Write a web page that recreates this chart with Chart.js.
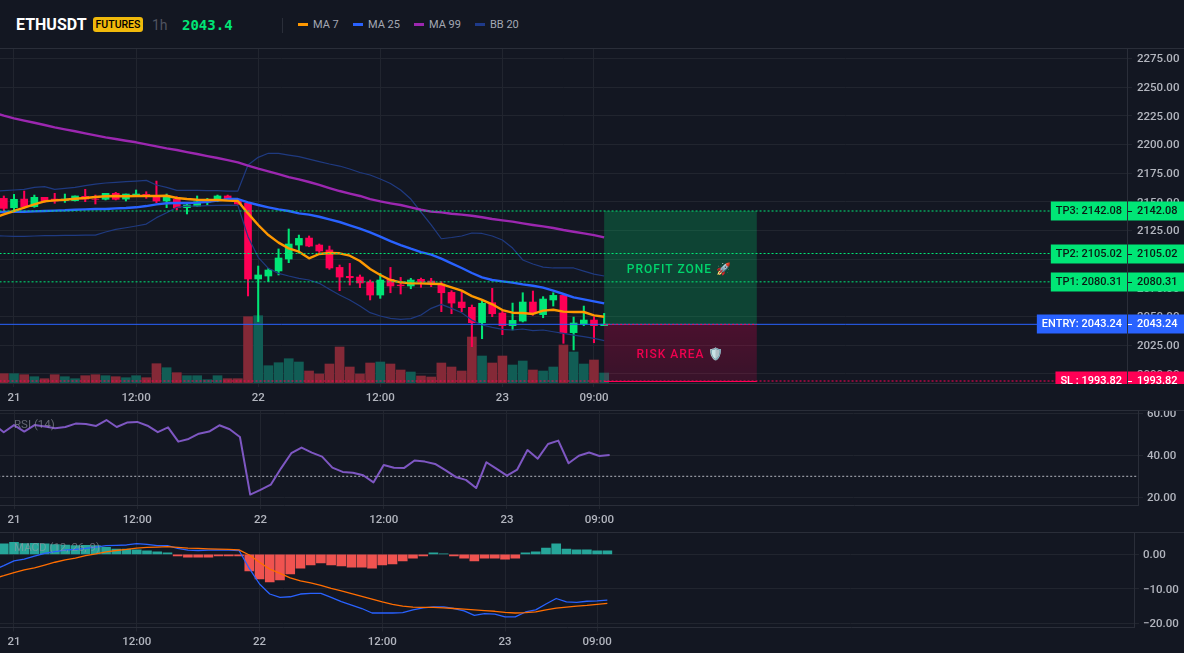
<!DOCTYPE html>
<html>
<head>
<meta charset="utf-8">
<title>ETHUSDT</title>
<script src="https://cdn.jsdelivr.net/npm/chart.js@4/dist/chart.umd.min.js"></script>
<style>
  html, body { margin: 0; padding: 0; width: 1184px; height: 653px; background: #131722; overflow: hidden; }
  body { position: relative; font-family: Roboto, sans-serif; }
  canvas { position: absolute; left: 0; }
  .abs { position: absolute; white-space: nowrap; line-height: 1; }
  .sep { position: absolute; left: 0; width: 1184px; height: 1px; background: #2a2e39; }
  .dash { position: absolute; top: 23px; width: 10px; height: 3px; }
  .leg { position: absolute; top: 18px; font-size: 11px; color: #a3a7b3; line-height: 14px; }
  .pane { position: absolute; left: 14px; font-size: 11.5px; color: rgba(150,154,166,0.62); line-height: 13px; }
</style>
</head>
<body>
  <div class="abs" style="left:16px;top:17px;font-size:16px;font-weight:700;color:#fff;">ETHUSDT</div>
  <div class="abs" style="left:93px;top:17px;width:50px;height:15px;line-height:15px;background:#f0b90b;border-radius:3px;color:#000;font-size:10.5px;font-weight:500;text-align:center;">FUTURES</div>
  <div class="abs" style="left:152px;top:18px;font-size:14px;color:#4f5360;">1h</div>
  <div class="abs" style="left:182px;top:18px;font-size:14px;font-weight:700;color:#00e676;font-family:'DejaVu Sans Mono',monospace;">2043.4</div>
  <div class="abs" style="left:282px;top:18px;width:1px;height:15px;background:#2a2e39;"></div>
  <div class="dash" style="left:298px;background:#ff9800;"></div><div class="leg" style="left:313px;">MA 7</div>
  <div class="dash" style="left:353px;background:#2962ff;"></div><div class="leg" style="left:368px;">MA 25</div>
  <div class="dash" style="left:414px;background:#9c27b0;"></div><div class="leg" style="left:429px;">MA 99</div>
  <div class="dash" style="left:475px;background:#1e3a8a;"></div><div class="leg" style="left:490px;">BB 20</div>

  <div class="sep" style="top:48px;"></div>
  <div class="sep" style="top:410px;"></div>
  <div class="sep" style="top:532px;"></div>

  <canvas id="mainChart" width="1184" height="361" style="top:49px;"></canvas>
  <canvas id="rsiChart" width="1184" height="121" style="top:411px;"></canvas>
  <canvas id="macdChart" width="1184" height="120" style="top:533px;"></canvas>

  <div class="pane" style="top:418px;">RSI (14)</div>
  <div class="pane" style="top:541px;">MACD (12, 26, 9)</div>

<script>
// hours since 21st 00:00, first sample sits just off the left edge
const firstHour = -2;

const opens = [2146.0,2153.1,2145.0,2152.5,2145.9,2154.0,2152.5,2151.1,2151.1,2154.9,2152.5,2152.3,2157.5,2152.5,2155.2,2156.6,2155.4,2150.8,2152.3,2145.0,2146.4,2149.9,2151.1,2155.2,2151.7,2148.8,2082.8,2085.4,2089.8,2100.2,2112.4,2118.5,2112.4,2108.1,2092.9,2085.1,2084.5,2080.2,2068.8,2082.5,2077.5,2076.7,2082.5,2081.0,2078.4,2071.1,2062.7,2058.1,2044.7,2062.1,2053.1,2042.1,2046.1,2062.7,2051.7,2064.5,2068.5,2036.0,2043.5,2047.0,2042.1];
const highs = [2155.0,2155.2,2156.6,2159.5,2156.0,2154.0,2157.5,2156.9,2155.2,2161.0,2156.0,2157.5,2158.4,2156.9,2160.4,2158.9,2168.2,2156.9,2154.6,2149.6,2155.2,2153.1,2156.0,2156.0,2152.3,2149.3,2094.1,2092.1,2109.0,2126.4,2121.1,2120.3,2113.3,2111.5,2095.0,2096.4,2086.3,2081.9,2087.7,2092.9,2084.2,2083.4,2083.6,2083.4,2080.4,2072.6,2071.7,2060.1,2065.0,2074.6,2054.9,2061.8,2070.8,2072.3,2067.4,2070.8,2069.1,2049.6,2059.2,2049.9,2052.8];
const lows = [2144.0,2142.4,2142.4,2144.4,2145.3,2149.6,2148.8,2149.6,2150.8,2150.2,2148.2,2151.7,2151.7,2150.8,2154.6,2153.1,2149.3,2145.0,2143.0,2139.5,2145.9,2147.3,2150.2,2151.7,2147.9,2068.0,2045.6,2080.5,2086.3,2097.0,2105.2,2110.9,2106.0,2091.2,2072.6,2077.5,2075.2,2064.5,2065.9,2070.8,2069.7,2074.3,2075.5,2076.1,2054.3,2052.5,2054.3,2023.8,2030.7,2049.9,2034.2,2038.3,2045.3,2051.1,2049.0,2059.2,2026.7,2020.9,2042.1,2027.2,2042.1];
const closes = [2152.0,2144.4,2152.3,2145.9,2154.0,2151.1,2150.8,2152.5,2155.2,2152.5,2152.3,2157.5,2152.3,2156.9,2156.9,2154.6,2150.8,2155.2,2145.0,2147.3,2150.2,2151.1,2155.2,2152.3,2148.2,2082.8,2086.3,2090.6,2101.1,2113.3,2118.2,2111.5,2107.2,2092.4,2084.5,2083.9,2079.3,2068.8,2081.9,2076.7,2076.9,2081.9,2080.2,2079.0,2070.8,2061.8,2057.8,2044.7,2061.6,2052.5,2042.1,2046.7,2062.7,2053.4,2065.3,2068.5,2035.7,2044.4,2047.0,2042.1,2043.4];
const volumes = [900,930,930,830,630,430,830,630,430,730,830,730,630,530,730,530,1930,1530,1030,730,730,330,730,430,430,6630,6730,1730,2030,2430,2100,1200,900,1900,3600,1600,900,2000,2100,1900,1300,1100,700,600,2000,1600,1200,4600,2700,2000,2700,1800,2200,1300,1200,1600,3800,3100,1900,2300,1000];

const ma7 = [2135.7,2139.2,2142.1,2145.0,2147.9,2150.5,2151.4,2151.9,2152.8,2153.4,2154.3,2154.9,2155.2,2154.9,2155.2,2155.2,2155.2,2155.4,2153.4,2152.5,2151.9,2151.7,2151.7,2151.1,2150.8,2140.0,2129.9,2121.1,2114.5,2109.5,2106.6,2100.8,2104.6,2105.4,2105.2,2103.1,2098.5,2091.5,2086.3,2081.9,2079.9,2079.0,2079.0,2078.7,2078.4,2075.5,2072.6,2067.9,2064.5,2060.7,2055.7,2053.4,2053.1,2052.3,2055.2,2056.0,2054.3,2054.0,2054.0,2051.1,2049.9];
const ma25 = [2140.9,2141.2,2141.5,2141.5,2141.8,2142.1,2142.4,2142.7,2143.2,2143.5,2143.8,2143.8,2144.4,2144.7,2145.3,2146.4,2147.9,2148.8,2149.1,2149.1,2149.4,2150.2,2151.1,2152.5,2152.5,2149.6,2147.3,2145.3,2143.5,2142.1,2140.0,2138.9,2137.1,2134.8,2132.5,2129.6,2126.7,2123.5,2119.7,2115.9,2112.4,2109.2,2106.3,2104.0,2100.5,2096.4,2092.4,2088.0,2084.2,2081.9,2080.7,2079.6,2078.1,2076.9,2075.2,2072.6,2069.7,2066.8,2065.0,2063.3,2061.5];
const ma99 = [2228.1,2225.2,2222.9,2220.9,2219.1,2217.1,2215.0,2213.3,2211.6,2209.8,2208.1,2206.3,2204.9,2203.4,2202.0,2200.2,2198.5,2196.7,2195.3,2193.5,2191.8,2190.0,2188.3,2186.5,2184.5,2181.6,2179.0,2176.7,2174.3,2171.7,2169.7,2167.4,2164.8,2162.1,2159.5,2157.3,2155.2,2152.5,2150.5,2148.8,2147.3,2145.3,2143.2,2141.5,2140.9,2139.7,2138.9,2138.0,2136.6,2135.1,2133.9,2132.8,2131.3,2129.9,2128.7,2127.3,2125.5,2124.0,2122.6,2121.1,2119.1];
const bbUpper = [2159.2,2159.8,2160.4,2161.0,2162.7,2163.3,2161.0,2161.8,2162.7,2164.2,2165.6,2166.5,2167.1,2167.7,2168.2,2168.8,2164.8,2162.7,2160.1,2160.1,2160.1,2159.8,2159.8,2159.5,2159.5,2182.2,2188.9,2192.4,2192.4,2190.9,2189.5,2187.4,2185.2,2183.1,2181.3,2178.7,2175.7,2173.5,2170.0,2166.1,2160.4,2152.5,2141.2,2129.9,2117.9,2119.0,2120.3,2122.9,2122.5,2120.3,2116.8,2109.8,2099.4,2095.9,2093.2,2092.4,2092.4,2092.4,2089.7,2087.1,2085.4];
const bbLower = [2120.6,2120.3,2120.0,2120.0,2120.3,2120.6,2120.6,2120.9,2120.9,2121.1,2121.1,2123.8,2126.1,2127.5,2129.0,2130.7,2136.3,2140.6,2145.3,2146.4,2146.4,2146.7,2147.0,2147.3,2147.0,2119.7,2101.7,2092.1,2087.7,2085.4,2083.4,2081.9,2079.0,2073.8,2068.8,2064.5,2059.2,2053.4,2050.5,2048.5,2047.6,2048.2,2051.4,2057.2,2060.7,2057.2,2053.4,2047.0,2042.7,2040.6,2038.9,2038.3,2039.2,2037.7,2038.3,2036.8,2035.4,2033.9,2032.5,2031.0,2029.0];

const rsiValues = [54.9,51.0,54.4,51.3,54.4,53.7,52.9,53.5,55.1,54.9,54.0,56.8,53.5,55.6,55.9,54.1,51.0,53.3,46.5,47.8,50.3,51.3,54.3,52.4,48.7,21.3,23.5,26.0,33.8,41.0,43.7,41.3,39.4,34.1,32.1,31.7,30.5,27.1,35.4,34.1,34.0,37.5,37.0,35.9,32.9,29.7,28.3,24.4,36.7,33.5,30.3,33.2,42.5,38.4,45.4,47.0,36.2,39.8,41.3,39.7,40.2];

const macdLine = [-4.5,-3.3,-1.9,-1.4,-0.5,0.3,0.8,1.2,1.4,1.7,2.1,2.5,2.6,2.7,3.1,2.9,2.5,2.5,1.7,1.2,1.1,1.2,1.3,1.2,1.1,-4.1,-8.6,-11.5,-12.5,-12.3,-11.5,-11.3,-11.3,-12.5,-13.7,-14.7,-15.7,-17.0,-17.0,-17.0,-16.9,-16.1,-15.5,-15.2,-15.2,-15.7,-16.4,-17.7,-17.2,-17.3,-18.1,-18.1,-16.7,-16.1,-14.4,-12.8,-13.8,-13.9,-13.6,-13.5,-13.3];
const macdSignal = [-7.0,-6.2,-5.3,-4.5,-3.9,-3.1,-2.3,-1.6,-1.1,-0.4,0.1,0.7,1.1,1.4,1.8,2.0,2.1,2.2,2.0,1.8,1.7,1.6,1.5,1.4,1.3,-0.2,-2.3,-4.3,-5.5,-6.8,-7.7,-8.3,-9.0,-9.9,-10.6,-11.4,-12.2,-13.0,-13.8,-14.5,-15.0,-15.3,-15.4,-15.4,-15.5,-15.7,-15.9,-16.1,-16.3,-16.5,-16.8,-17.0,-16.9,-16.7,-16.1,-15.6,-15.3,-15.0,-14.8,-14.5,-14.2];
const macdHist = [2.9,3.0,3.5,3.1,3.2,3.0,2.8,2.7,2.5,2.6,2.5,2.0,1.5,1.5,1.3,1.0,0.7,0.4,-0.5,-0.8,-0.8,-0.8,-0.5,-0.5,-0.5,-4.8,-7.1,-8.0,-7.4,-5.7,-4.0,-3.1,-2.5,-3.1,-3.4,-3.7,-3.7,-4.0,-3.1,-2.8,-1.9,-1.1,-0.5,0.4,0.1,-0.5,-1.1,-1.9,-1.1,-1.1,-1.4,-1.1,0.4,0.7,1.8,3.0,1.5,1.3,1.3,1.0,1.0];

const timeTickHours = [0, 12, 24, 36, 48, 57];
const timeTickLabels = ['21', '12:00', '22', '12:00', '23', '09:00'];
const priceTicks = [2000, 2025, 2050, 2075, 2100, 2125, 2150, 2175, 2200, 2225, 2250, 2275];
const rsiTicks = [20, 40, 60];
const macdTicks = [-20, -10, 0];

const levelNames = ['TP3: ', 'TP2: ', 'TP1: ', 'ENTRY: ', 'SL : '];
const levelPrices = [2142.08, 2105.02, 2080.31, 2043.24, 1993.82];
const levelColors = ['#00e676', '#00e676', '#00e676', '#2962ff', '#ff0055'];
const levelTextColors = ['#0b1a14', '#0b1a14', '#0b1a14', '#ffffff', '#ffffff'];

const zoneStartHour = 58;
const zoneEndHour = 73;
const entryPrice = 2043.24;
const targetPrice = 2142.08;
const stopPrice = 1993.82;
const rsiOversold = 30;

const hours = opens.map((_, i) => firstHour + i);
const points = (values) => values.map((y, i) => ({ x: hours[i], y }));

const gridColor = '#21252f';
const borderColor = '#2a2e39';
const tickColor = '#b2b5be';
const GREEN = '#00e676';
const RED = '#ff0055';

Chart.defaults.font.family = 'Roboto, sans-serif';
Chart.defaults.font.size = 11.5;
Chart.defaults.font.weight = '500';

const lineSet = (data, color, width, order, extra) => Object.assign({
    type: 'line',
    data,
    borderColor: color,
    borderWidth: width,
    pointRadius: 0,
    tension: 0,
    borderJoinStyle: 'round',
    order,
}, extra || {});

function timeAxis(pxPerHour, axisHeight, plotRight) {
    return {
        type: 'linear',
        offset: false,
        min: -14 / pxPerHour,
        max: (plotRight - 14) / pxPerHour,
        grid: { color: gridColor, tickLength: 4, offset: false },
        border: { color: borderColor },
        ticks: {
            color: tickColor,
            padding: 4,
            autoSkip: false,
            maxRotation: 0,
            callback: (v) => timeTickLabels[timeTickHours.indexOf(v)],
        },
        afterBuildTicks: (scale) => { scale.ticks = timeTickHours.map(value => ({ value })); },
        afterFit: (scale) => {
            scale.height = axisHeight;
            scale.paddingLeft = 0;
            scale.paddingRight = 0;
        },
    };
}

function valueAxis(min, max, tickValues, axisWidth, labelPad) {
    return {
        position: 'right',
        min,
        max,
        grid: { color: gridColor, tickLength: 5 },
        border: { color: borderColor },
        ticks: {
            color: tickColor,
            padding: labelPad,
            labelOffset: 1,
            autoSkip: false,
            callback: (v) => v.toFixed(2).replace('-', '\u2212'),
        },
        afterBuildTicks: (scale) => { scale.ticks = tickValues.map(value => ({ value })); },
        afterFit: (scale) => {
            scale.width = axisWidth;
            scale.paddingTop = 0;
            scale.paddingBottom = 0;
        },
    };
}

const baseOptions = (scales) => ({
    responsive: false,
    animation: false,
    devicePixelRatio: 1,
    events: [],
    layout: { padding: 0 },
    plugins: { legend: { display: false }, tooltip: { enabled: false } },
    scales,
});

// profit / risk boxes and the price tags on the right
const tradeOverlay = {
    id: 'tradeOverlay',
    afterDraw(chart) {
        const { ctx, chartArea } = chart;
        const x = chart.scales.x;
        const y = chart.scales.y;
        const zoneL = x.getPixelForValue(zoneStartHour);
        const zoneR = x.getPixelForValue(zoneEndHour);
        const yTarget = y.getPixelForValue(targetPrice);
        const yEntry = y.getPixelForValue(entryPrice);
        const yStop = y.getPixelForValue(stopPrice);
        const zoneW = zoneR - zoneL;

        ctx.save();
        ctx.fillStyle = 'rgba(0,230,118,0.22)';
        ctx.fillRect(zoneL, yTarget, zoneW, yEntry - yTarget);
        const riskFill = ctx.createLinearGradient(0, yEntry, 0, yStop);
        riskFill.addColorStop(0, 'rgba(255,0,85,0.24)');
        riskFill.addColorStop(1, 'rgba(255,0,85,0.16)');
        ctx.fillStyle = riskFill;
        ctx.fillRect(zoneL, yEntry, zoneW, yStop - yEntry);

        ctx.strokeStyle = RED;
        ctx.lineWidth = 1;
        ctx.setLineDash([2, 2]);
        ctx.beginPath();
        ctx.moveTo(zoneL, yEntry);
        ctx.lineTo(zoneR, yEntry);
        ctx.stroke();
        ctx.setLineDash([]);
        ctx.beginPath();
        ctx.moveTo(zoneL, yStop + 0.5);
        ctx.lineTo(zoneR, yStop + 0.5);
        ctx.stroke();

        ctx.textAlign = 'center';
        ctx.textBaseline = 'middle';
        ctx.font = '500 12px Roboto, sans-serif';
        ctx.letterSpacing = '1px';
        ctx.fillStyle = '#00d46c';
        ctx.fillText('PROFIT ZONE \u{1F680}', (zoneL + zoneR) / 2 - 1, (yTarget + yEntry) / 2 + 2);
        ctx.fillStyle = '#f0004f';
        ctx.fillText('RISK AREA \u{1F6E1}\uFE0F', (zoneL + zoneR) / 2, (yEntry + yStop) / 2 + 2);
        ctx.letterSpacing = '0px';
        ctx.restore();

        ctx.save();
        ctx.beginPath();
        ctx.rect(0, 0, chart.width, chartArea.bottom + 1);
        ctx.clip();
        ctx.font = '500 11px Roboto, sans-serif';
        ctx.textBaseline = 'middle';
        levelPrices.forEach((price, i) => {
            const py = Math.round(y.getPixelForValue(price));
            const tagText = levelNames[i] + price.toFixed(2);
            const tagW = ctx.measureText(tagText).width + 10;
            const axisX = chartArea.right;
            ctx.fillStyle = levelColors[i];
            ctx.fillRect(axisX - tagW, py - 9.5, tagW, 19);
            ctx.fillRect(axisX + 1, py - 9.5, chart.width - axisX - 1, 19);
            ctx.fillStyle = levelTextColors[i];
            ctx.textAlign = 'right';
            ctx.fillText(tagText, axisX - 5, py + 0.5);
            ctx.fillRect(axisX + 1, py, 4, 1);
            ctx.textAlign = 'left';
            ctx.fillText(price.toFixed(2), axisX + 10, py + 0.5);
        });
        ctx.restore();
    },
};

function initMainChart() {
    const levelSets = levelPrices.map((price, i) => lineSet(
        [{ x: -14, y: price }, { x: 120, y: price }],
        levelColors[i], 1, 0, i === 3 ? {} : { borderDash: [2, 2] }
    ));
    return new Chart(document.getElementById('mainChart').getContext('2d'), {
        type: 'bar',
        data: {
            datasets: [
                ...levelSets,
                lineSet(points(ma7), '#ff9800', 2.4, 1),
                lineSet(points(ma25), '#2962ff', 2.4, 2),
                lineSet(points(ma99), '#9c27b0', 2.4, 3),
                lineSet(points(bbUpper), '#1f3a80', 1.2, 4),
                lineSet(points(bbLower), '#1f3a80', 1.2, 4),
                {
                    data: hours.map((x, i) => ({ x, y: [opens[i], closes[i]] })),
                    backgroundColor: closes.map((c, i) => c >= opens[i] ? GREEN : RED),
                    barThickness: 7,
                    grouped: false,
                    order: 5,
                },
                {
                    data: hours.map((x, i) => ({ x, y: [lows[i], highs[i]] })),
                    backgroundColor: closes.map((c, i) => c >= opens[i] ? GREEN : RED),
                    barThickness: 1.4,
                    grouped: false,
                    order: 6,
                },
                {
                    data: points(volumes),
                    yAxisID: 'yVolume',
                    backgroundColor: closes.map((c, i) => c >= opens[i] ? '#115d55' : '#842937'),
                    barThickness: 9,
                    grouped: false,
                    order: 7,
                },
            ],
        },
        options: baseOptions({
            x: timeAxis(10.175, 27, 1127),
            y: valueAxis(1992.08, 2283.38, priceTicks, 57, 5),
            yVolume: { display: false, min: 0, max: 33400 },
        }),
        plugins: [tradeOverlay],
    });
}

function initRsiChart() {
    return new Chart(document.getElementById('rsiChart').getContext('2d'), {
        type: 'line',
        data: {
            datasets: [
                lineSet([{ x: -14, y: rsiOversold }, { x: 120, y: rsiOversold }], '#b2b5be', 1, 1, { borderDash: [2, 2] }),
                lineSet(points(rsiValues), '#7e57c2', 2, 0),
            ],
        },
        options: baseOptions({
            x: timeAxis(10.27, 27, 1138),
            y: valueAxis(16.33, 61.1, rsiTicks, 46, 4),
        }),
    });
}

function initMacdChart() {
    return new Chart(document.getElementById('macdChart').getContext('2d'), {
        type: 'bar',
        data: {
            datasets: [
                lineSet(points(macdSignal), '#ff6d00', 1.3, 0),
                lineSet(points(macdLine), '#2962ff', 1.3, 1),
                {
                    data: points(macdHist),
                    backgroundColor: macdHist.map(v => v >= 0 ? '#26a69a' : '#ef5350'),
                    barThickness: 9,
                    grouped: false,
                    order: 2,
                },
            ],
        },
        options: baseOptions({
            x: timeAxis(10.23, 25.5, 1134),
            y: valueAxis(-21.2, 6.17, macdTicks, 50, 4),
        }),
    });
}

initMainChart();
initRsiChart();
initMacdChart();
</script>
</body>
</html>
